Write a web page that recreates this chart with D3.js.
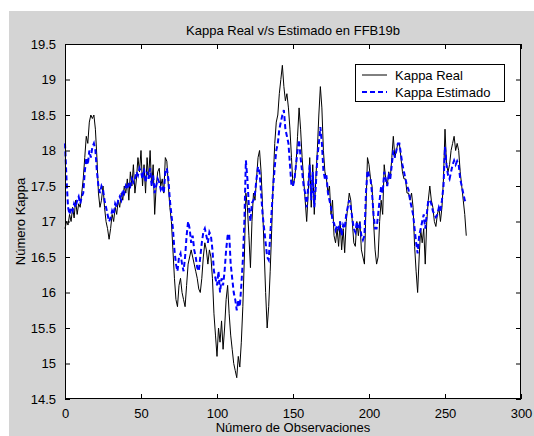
<!DOCTYPE html>
<html lang="es">
<head>
  <meta charset="UTF-8" />
  <title>Kappa Real v/s Estimado en FFB19b</title>
  <script src="https://d3js.org/d3.v7.min.js"></script>
  <style>
    body {
      margin: 0;
      background: #fff;
      font-family: "Liberation Sans", Arial, sans-serif;
    }
    svg text {
      fill: #000;
    }
  </style>
</head>
<body>
  <div id="chart"></div>

  <script>
    // Valores (una observacion por indice)
    const kappaReal = [
      16.9, 17.0, 16.95, 17.1, 17.0, 17.2, 17.05, 17.3, 17.1, 17.25,
      17.2, 17.4, 17.6, 17.9, 18.2, 18.1, 18.4, 18.5, 18.45, 18.5,
      18.3, 17.9, 17.4, 17.2, 17.3, 17.5, 17.2, 17.0, 16.9, 16.75,
      16.9, 17.1, 17.0, 17.2, 17.1, 17.3, 17.2, 17.4, 17.3, 17.5,
      17.4, 17.6, 17.3, 17.7, 17.5, 17.8, 17.4, 17.6, 17.9, 17.7,
      18.0, 17.5, 17.8, 17.4, 17.9, 17.6, 18.0, 17.5, 17.8, 17.1,
      17.5, 17.7, 17.75, 17.5, 17.6, 17.4, 17.9, 17.85, 17.5, 17.2,
      17.0, 16.6, 16.2, 15.9, 15.8, 16.1, 16.2, 16.0, 15.9, 15.8,
      16.1, 16.4, 16.5, 16.6, 16.5, 16.4, 16.3, 16.2, 16.05, 16.0,
      16.2, 16.5, 16.7, 16.6, 16.4, 16.6, 16.5, 16.2, 15.7, 15.4,
      15.1, 15.5, 15.3, 15.6, 15.2, 15.5, 15.9, 16.1, 15.7, 15.4,
      15.2, 15.0, 14.9, 14.8, 15.1, 14.95, 15.3, 15.8, 16.5, 17.4,
      17.2, 16.8, 16.35, 17.0, 17.4, 17.3, 17.6, 17.9, 18.0, 17.7,
      17.2, 16.6, 16.0, 15.5, 15.8, 16.3, 16.9, 17.6, 18.1, 18.4,
      18.5, 18.8, 19.0, 19.2, 18.9, 18.7, 18.8, 18.6, 18.3, 17.9,
      17.5, 17.6, 17.8, 18.2, 18.6, 18.3, 17.9, 17.6, 17.3, 17.0,
      17.4, 17.9, 17.2, 17.8, 17.1, 17.6, 18.0, 18.5, 18.9, 18.6,
      18.0, 17.7, 17.6, 17.4, 17.5, 17.1, 17.3, 16.8, 16.7, 16.9,
      16.65, 17.0, 16.6, 16.9, 16.56, 17.0, 17.2, 17.4, 17.3, 17.0,
      16.7, 16.65, 17.0, 16.8, 17.0, 16.6, 16.5, 16.4, 17.2, 17.9,
      17.8, 17.6, 17.5, 17.0, 16.6, 16.4, 16.5, 17.0, 17.3, 17.1,
      17.8, 17.6, 17.5, 17.7, 17.6, 17.9, 18.2, 17.9, 18.0, 18.1,
      18.1, 17.9, 17.7, 17.6, 17.6, 17.4, 17.4, 17.3, 17.4, 17.2,
      16.65, 16.3, 16.0, 16.5, 16.9, 16.7, 16.9, 16.4, 17.0, 17.3,
      17.5, 17.3, 17.2, 17.0, 16.93, 17.1, 17.2, 17.0, 17.2, 17.6,
      18.3, 17.8, 17.7, 17.8, 18.0, 18.1, 18.2, 18.0, 18.1, 18.0,
      17.7, 17.5, 17.3, 17.1, 16.8
    ];

    const kappaEstimado = [
      18.1, 17.6, 17.2, 17.1, 17.2, 17.15, 17.25, 17.2, 17.3, 17.35,
      17.25, 17.35, 17.4, 17.7, 17.9, 17.8, 18.0, 17.9, 18.05, 18.1,
      18.0, 17.7, 17.5, 17.4, 17.5, 17.45, 17.3, 17.2, 17.1, 17.0,
      17.05, 17.15, 17.1, 17.25, 17.2, 17.3, 17.35, 17.3, 17.45, 17.4,
      17.5, 17.45, 17.55, 17.5, 17.6, 17.55, 17.6, 17.7, 17.65, 17.75,
      17.7, 17.6, 17.75, 17.55, 17.7, 17.6, 17.75, 17.5, 17.65, 17.4,
      17.5, 17.6, 17.55, 17.45, 17.5, 17.4, 17.7, 17.75, 17.6, 17.3,
      17.1, 16.9, 16.6, 16.4, 16.3, 16.5, 16.55, 16.4, 16.3, 16.5,
      16.8, 17.0, 16.9, 16.7, 16.8, 16.6, 16.5, 16.35, 16.3, 16.5,
      16.7, 16.85, 16.9, 16.8, 16.7, 16.85, 16.8, 16.6, 16.3, 16.2,
      16.1, 16.3, 16.0, 16.2, 16.1, 16.3, 16.6, 16.8, 16.83, 16.4,
      16.2, 16.0, 15.9, 15.75, 15.9, 15.8, 16.1, 16.46, 17.0, 17.86,
      17.6, 17.2, 17.0, 17.26, 17.3, 17.4, 17.6, 17.77, 17.7, 17.4,
      17.1, 16.9, 16.7, 16.5, 16.46, 16.8, 17.16, 17.5, 17.77, 18.0,
      18.1, 18.3, 18.4, 18.5, 18.57, 18.3, 18.2, 18.1, 17.8, 17.5,
      17.5, 17.6, 17.8, 18.0, 18.15, 17.9, 17.7, 17.5, 17.4, 17.2,
      17.5, 17.8, 17.3, 17.7, 17.2, 17.5, 17.9, 18.1, 18.33, 18.1,
      17.72, 17.6, 17.65, 17.4, 17.3, 17.2, 17.0, 16.98, 16.88, 16.95,
      16.9, 17.0, 16.8, 16.95, 16.9, 17.1, 17.2, 17.3, 17.2, 17.05,
      16.9, 16.85, 17.0, 16.9, 16.95, 16.8, 16.74, 16.8, 17.4, 17.72,
      17.65, 17.6, 17.4, 17.1, 16.9, 16.9, 17.1, 17.3, 17.5, 17.4,
      17.7, 17.6, 17.5, 17.65, 17.6, 17.8, 18.0, 17.9, 18.0, 18.1,
      18.1, 17.95, 17.8, 17.7, 17.6, 17.5, 17.45, 17.3, 17.2, 17.1,
      16.9, 16.7, 16.55, 16.8, 16.9, 17.0, 17.1, 16.9, 17.1, 17.3,
      17.3, 17.25, 17.15, 17.1, 17.06, 17.1, 17.2, 17.15, 17.3, 17.5,
      18.05, 17.8, 17.65, 17.6, 17.7, 17.8, 17.86, 17.8, 17.85, 17.8,
      17.6, 17.5, 17.4, 17.3, 17.27
    ];

    const xTicks = [0, 50, 100, 150, 200, 250, 300];
    const yTicks = [14.5, 15, 15.5, 16, 16.5, 17, 17.5, 18, 18.5, 19, 19.5];
    const seriesNames = ["Kappa Real", "Kappa Estimado"];

    const W = 534, H = 436;
    const plot = { left: 65, right: 521, top: 44, bottom: 399 };

    const svg = d3.select("#chart")
      .append("svg")
      .attr("width", W)
      .attr("height", H)
      .style("display", "block");

    // fondo gris de la figura
    svg.append("rect")
      .attr("x", 9)
      .attr("y", 11)
      .attr("width", W - 9)
      .attr("height", H - 11)
      .attr("fill", "#d4d4d4");

    svg.append("rect")
      .attr("x", plot.left)
      .attr("y", plot.top)
      .attr("width", plot.right - plot.left)
      .attr("height", plot.bottom - plot.top)
      .attr("fill", "#fff");

    const x = d3.scaleLinear().domain([0, 300]).range([plot.left, plot.right]);
    const y = d3.scaleLinear().domain([14.5, 19.5]).range([plot.bottom, plot.top]);

    // Lineas
    const line = d3.line()
      .x((d, i) => x(i))
      .y(d => y(d));

    svg.append("path")
      .datum(kappaReal)
      .attr("fill", "none")
      .attr("stroke", "#000")
      .attr("stroke-width", 1)
      .attr("d", line);

    svg.append("path")
      .datum(kappaEstimado)
      .attr("fill", "none")
      .attr("stroke", "#0000ff")
      .attr("stroke-width", 2)
      .attr("stroke-dasharray", "5,3")
      .attr("d", line);

    // Ejes (ticks hacia dentro, en los cuatro lados)
    const tickLen = 5;
    const axisStyle = g => {
      g.selectAll(".domain").remove();
      g.selectAll("line").attr("stroke", "#000");
      g.selectAll("text")
        .style("font-family", "'Liberation Sans', Arial, sans-serif")
        .style("font-size", "13px")
        .attr("fill", "#000");
    };

    svg.append("g")
      .attr("transform", `translate(0,${plot.bottom})`)
      .call(d3.axisBottom(x).tickValues(xTicks).tickSizeInner(-tickLen).tickSizeOuter(0).tickPadding(10))
      .call(axisStyle);

    svg.append("g")
      .attr("transform", `translate(0,${plot.top})`)
      .call(d3.axisTop(x).tickValues(xTicks).tickSizeInner(-tickLen).tickSizeOuter(0).tickFormat(""))
      .call(axisStyle);

    svg.append("g")
      .attr("transform", `translate(${plot.left},0)`)
      .call(d3.axisLeft(y).tickValues(yTicks).tickSizeInner(-tickLen).tickSizeOuter(0).tickPadding(9)
        .tickFormat(d => String(d)))
      .call(axisStyle);

    svg.append("g")
      .attr("transform", `translate(${plot.right},0)`)
      .call(d3.axisRight(y).tickValues(yTicks).tickSizeInner(-tickLen).tickSizeOuter(0).tickFormat(""))
      .call(axisStyle);

    // caja
    svg.append("rect")
      .attr("x", plot.left + 0.5)
      .attr("y", plot.top + 0.5)
      .attr("width", plot.right - plot.left - 1)
      .attr("height", plot.bottom - plot.top - 1)
      .attr("fill", "none")
      .attr("stroke", "#000")
      .attr("stroke-width", 1);

    // Titulo y etiquetas
    svg.append("text")
      .attr("x", (plot.left + plot.right) / 2)
      .attr("y", 35)
      .attr("text-anchor", "middle")
      .style("font-size", "13px")
      .text("Kappa Real v/s Estimado en FFB19b");

    svg.append("text")
      .attr("x", (plot.left + plot.right) / 2)
      .attr("y", 432)
      .attr("text-anchor", "middle")
      .style("font-size", "13px")
      .text("Número de Observaciones");

    svg.append("text")
      .attr("transform", `translate(25,${(plot.top + plot.bottom) / 2}) rotate(-90)`)
      .attr("text-anchor", "middle")
      .style("font-size", "13px")
      .text("Número Kappa");

    // Leyenda
    const legend = svg.append("g");
    legend.append("rect")
      .attr("x", 355.5)
      .attr("y", 64.5)
      .attr("width", 149)
      .attr("height", 37)
      .attr("fill", "#fff")
      .attr("stroke", "#000");

    const legendStyles = [
      { stroke: "#000", width: 1, dash: null },
      { stroke: "#0000ff", width: 2, dash: "5,3" }
    ];

    seriesNames.forEach((name, i) => {
      const cy = 75 + i * 17;
      legend.append("line")
        .attr("x1", 362)
        .attr("x2", 387)
        .attr("y1", cy)
        .attr("y2", cy)
        .attr("stroke", legendStyles[i].stroke)
        .attr("stroke-width", legendStyles[i].width)
        .attr("stroke-dasharray", legendStyles[i].dash);
      legend.append("text")
        .attr("x", 395)
        .attr("y", cy + 5)
        .style("font-size", "13px")
        .text(name);
    });
  </script>
</body>
</html>
